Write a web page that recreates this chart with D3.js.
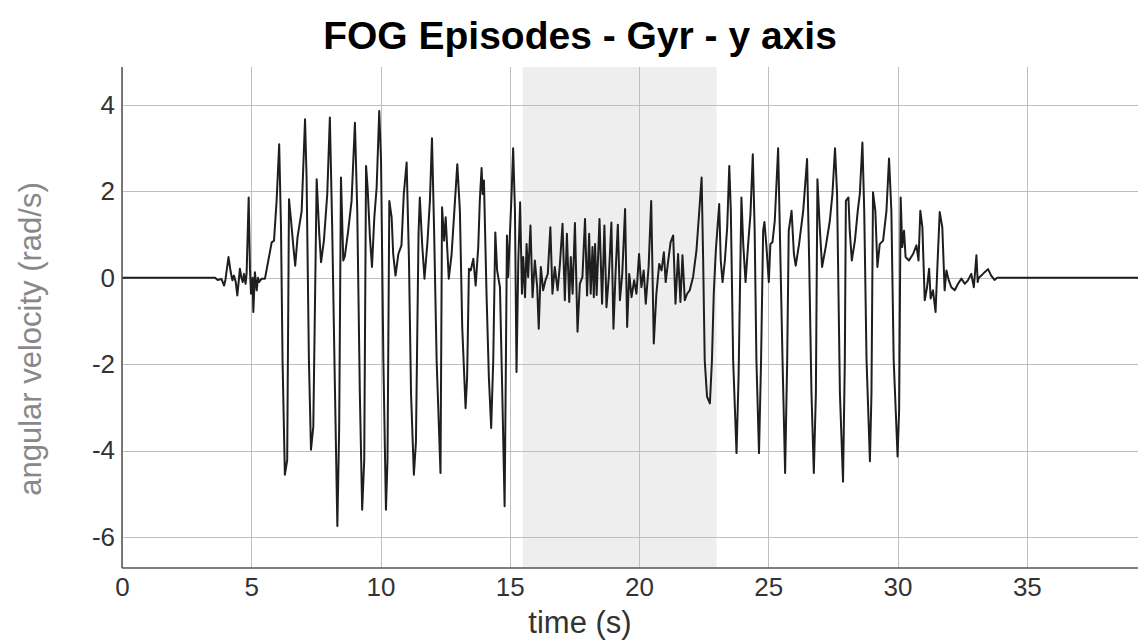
<!DOCTYPE html>
<meta charset="utf-8">
<style>
  body { margin: 0; background: #fff; }
  .grid line { stroke: #bfbfbf; stroke-width: 1; shape-rendering: crispEdges; }
  .grid path { display: none; }
  .axis text { font-family: "Liberation Sans", Arial, sans-serif; font-size: 26px; fill: #333; }
  .axis path, .axis line { display: none; }
</style>
<body>
<div id="chart"></div>
<script src="https://d3js.org/d3.v7.min.js"></script>
<script>

// time (s) of each digitised sample
var timeS = [0, 3.6, 3.7, 3.85, 3.95, 4.0, 4.12, 4.2, 4.27, 4.33, 4.4, 4.46, 4.52, 4.56, 4.62, 4.67, 4.72, 4.78, 4.82, 4.9,
  4.95, 4.99, 5.05, 5.08, 5.12, 5.14, 5.18, 5.21, 5.26, 5.3, 5.4, 5.53, 5.66, 5.79, 5.88, 5.98, 6.08, 6.15, 6.21, 6.3,
  6.39, 6.46, 6.54, 6.63, 6.7, 6.79, 6.95, 7.08, 7.14, 7.23, 7.31, 7.4, 7.53, 7.63, 7.7, 7.81, 7.94, 8.04, 8.13, 8.24,
  8.33, 8.4, 8.47, 8.56, 8.62, 8.75, 8.88, 9.01, 9.1, 9.2, 9.29, 9.37, 9.44, 9.5, 9.59, 9.67, 9.76, 9.85, 9.95, 10.02,
  10.11, 10.21, 10.27, 10.34, 10.43, 10.49, 10.58, 10.69, 10.81, 10.9, 11.01, 11.1, 11.18, 11.29, 11.37, 11.47, 11.52, 11.61, 11.7, 11.81,
  11.91, 11.99, 12.07, 12.17, 12.32, 12.38, 12.46, 12.52, 12.64, 12.75, 12.88, 12.97, 13.07, 13.16, 13.29, 13.35, 13.42, 13.49, 13.59, 13.68,
  13.78, 13.84, 13.91, 13.95, 14.0, 14.1, 14.19, 14.28, 14.36, 14.44, 14.51, 14.62, 14.71, 14.8, 14.85, 14.89, 14.94, 15.0, 15.07, 15.13,
  15.2, 15.26, 15.33, 15.4, 15.47, 15.52, 15.59, 15.65, 15.71, 15.8, 15.88, 15.97, 16.06, 16.12, 16.2, 16.29, 16.38, 16.47, 16.57, 16.65,
  16.74, 16.85, 16.94, 17.04, 17.13, 17.21, 17.3, 17.36, 17.43, 17.52, 17.62, 17.71, 17.81, 17.91, 17.99, 18.07, 18.13, 18.2, 18.25, 18.3,
  18.36, 18.47, 18.57, 18.66, 18.74, 18.83, 18.93, 19.01, 19.09, 19.18, 19.26, 19.35, 19.46, 19.54, 19.62, 19.71, 19.81, 19.9, 20.0, 20.09,
  20.18, 20.26, 20.37, 20.47, 20.57, 20.67, 20.78, 20.87, 20.96, 21.03, 21.13, 21.22, 21.32, 21.41, 21.51, 21.6, 21.68, 21.77, 21.86, 21.96,
  22.09, 22.22, 22.33, 22.42, 22.48, 22.54, 22.63, 22.74, 22.82, 22.89, 22.97, 23.1, 23.16, 23.23, 23.32, 23.41, 23.49, 23.55, 23.64, 23.77,
  23.85, 23.96, 24.03, 24.12, 24.22, 24.31, 24.4, 24.47, 24.54, 24.64, 24.72, 24.8, 24.85, 24.93, 25.02, 25.08, 25.16, 25.25, 25.38, 25.47,
  25.55, 25.65, 25.73, 25.79, 25.9, 25.99, 26.06, 26.19, 26.35, 26.5, 26.58, 26.67, 26.76, 26.84, 26.9, 26.99, 27.08, 27.22, 27.38, 27.48,
  27.58, 27.66, 27.77, 27.89, 27.96, 28.0, 28.1, 28.15, 28.23, 28.35, 28.46, 28.54, 28.64, 28.71, 28.8, 28.93, 28.99, 29.05, 29.14, 29.22,
  29.31, 29.44, 29.57, 29.67, 29.76, 29.85, 30.0, 30.06, 30.12, 30.18, 30.25, 30.31, 30.44, 30.6, 30.73, 30.81, 30.88, 30.96, 31.05, 31.14,
  31.22, 31.28, 31.37, 31.47, 31.55, 31.63, 31.73, 31.82, 31.89, 31.98, 32.08, 32.21, 32.34, 32.47, 32.6, 32.72, 32.85, 32.95, 33.05, 33.1,
  33.14, 33.24, 33.37, 33.5, 33.62, 33.75, 33.85, 39.3];

// gyroscope y axis, angular velocity (rad/s)
var gyrY = [0, 0, -0.05, -0.03, -0.18, -0.05, 0.48, 0.15, -0.06, 0.05, -0.1, -0.41, -0.05, 0.21, 0, -0.1, 0.09, -0.14, 0.1, 1.86,
  0.2, -0.37, 0, -0.79, -0.2, 0.13, -0.1, -0.29, 0, -0.1, -0.02, -0.02, 0.4, 0.82, 0.86, 1.78, 3.09, 1.17, -1.91, -4.56,
  -4.22, 1.82, 1.32, 0.71, 0.28, 0.94, 1.55, 3.67, 2.32, -1.91, -3.98, -3.45, 2.28, 1.02, 0.36, 0.86, 1.94, 3.71, 1.17, -2.68,
  -5.75, -3.5, 2.32, 0.4, 0.5, 1.09, 1.78, 3.59, 1.55, -2.68, -5.37, -4.22, 2.59, 2.09, 0.94, 0.25, 1.4, 2.09, 3.86, 2.71,
  -1.91, -5.37, -4.22, 1.78, 1.4, 0.55, 0.05, 0.55, 0.75, 1.94, 2.67, 0.4, -2.68, -4.56, -3.8, 1.02, 1.86, 0.78, -0.02, 0.78,
  1.78, 3.23, 1.17, -1.91, -4.52, 1.63, 0.86, 1.4, -0.02, 0.55, 1.78, 2.63, 1.55, -1.14, -3.02, -2.3, 0.21, 0.17, 0.44, -0.18,
  0.71, 1.78, 2.54, 1.94, 2.25, -0.37, -2.29, -3.48, -1.91, 1.05, 0.17, -0.22, -2.68, -5.29, -1.91, 0.98, 0.02, 0.94, 1.94, 3.0,
  1.55, -2.18, 0.4, 1.75, -0.37, 0.48, -0.45, 0.78, 0.02, 1.21, -0.45, 0.4, -0.22, -1.18, 0.25, -0.29, -0.06, 0.09, 1.17, -0.37,
  0.25, -0.29, 0.32, 1.25, -0.52, 1.02, -0.56, 0.48, -0.37, 1.27, -1.25, -0.14, 0.02, 1.36, -0.41, 1.02, -0.37, 0.71, -0.45, 0.78,
  -0.4, 1.36, -0.6, 1.21, -0.68, 0.02, 1.28, -1.18, 0.09, 1.23, -0.52, 0.09, 1.59, -1.14, 0.09, -0.45, -0.06, -0.37, 0.55, -0.22,
  0.17, -0.6, 0.25, 1.78, -1.52, -0.37, 0.32, 0.17, 0.59, -0.1, 0.4, 0.82, 0.98, -0.6, 0.55, -0.56, 0.52, -0.52, -0.37, -0.29,
  0.02, 0.63, 1.55, 2.32, 0.4, -1.91, -2.75, -2.91, -1.91, -0.37, 0.63, 1.71, 0.4, -0.1, 0.4, 1.17, 2.59, 1.55, -1.91, -4.06,
  -2.29, 1.86, 0.78, -0.1, 0.78, 1.48, 2.86, 1.17, -1.91, -4.06, -1.91, 1.09, 1.29, 0.71, -0.1, 0.78, 0.82, 1.32, 3.0, 0.4,
  -1.91, -4.52, -1.91, 1.09, 1.55, 0.55, 0.28, 0.78, 1.55, 2.75, 0.4, -2.68, -4.52, -2.68, 2.28, 1.17, 0.25, 0.71, 1.32, 1.94,
  3.0, 1.94, -2.68, -4.72, -1.91, 1.78, 1.86, 1.09, 0.4, 0.86, 1.55, 1.94, 3.13, 1.55, -1.91, -4.25, -2.68, 1.98, 1.55, 0.25,
  0.78, 0.86, 1.55, 2.76, 1.55, -1.91, -4.14, -3.06, 1.86, 0.71, 1.09, 0.48, 0.4, 0.55, 0.75, 0.4, 1.55, 1.17, -0.52, -0.22,
  0.21, -0.48, -0.29, -0.79, 0.4, 1.52, 1.17, -0.29, 0.17, -0.06, -0.22, -0.29, -0.14, -0.02, -0.14, -0.06, 0.09, -0.22, 0.52, -0.1,
  0, 0.05, 0.13, 0.2, 0.05, -0.05, 0, 0];

// freezing of gait episode (start, end) in seconds
var fogStart = [15.5],
    fogEnd = [23.0];

var xTicks = [0, 5, 10, 15, 20, 25, 30, 35],
    yTicks = [-6, -4, -2, 0, 2, 4];

var W = 1138, H = 641,
    margin = {top: 67, right: 0, bottom: 73, left: 122};

var width = W - margin.left - margin.right,
    height = H - margin.top - margin.bottom;

var svg = d3.select("#chart").append("svg")
    .attr("width", W)
    .attr("height", H);

var g = svg.append("g")
    .attr("transform", "translate(" + margin.left + "," + margin.top + ")");

var x = d3.scaleLinear().domain([0, 39.3]).range([0, width]);
var y = d3.scaleLinear().domain([-6.72, 4.88]).range([height, 0]);

// shaded FOG window
g.selectAll(".fog")
    .data(fogStart)
  .enter().append("rect")
    .attr("class", "fog")
    .attr("x", function(d) { return x(d); })
    .attr("y", 0)
    .attr("width", function(d, i) { return x(fogEnd[i]) - x(d); })
    .attr("height", height)
    .attr("fill", "#eeeeee");

// grid lines
g.append("g")
    .attr("class", "grid")
    .attr("transform", "translate(0," + height + ")")
    .call(d3.axisBottom(x).tickValues(xTicks).tickSize(-height).tickFormat(""));

g.append("g")
    .attr("class", "grid")
    .call(d3.axisLeft(y).tickValues(yTicks).tickSize(-width).tickFormat(""));

// signal
g.append("clipPath").attr("id", "clip")
  .append("rect").attr("width", width).attr("height", height);

var line = d3.line()
    .x(function(d, i) { return x(timeS[i]); })
    .y(function(d) { return y(d); });

g.append("path")
    .datum(gyrY)
    .attr("clip-path", "url(#clip)")
    .attr("fill", "none")
    .attr("stroke", "#1e1e1e")
    .attr("stroke-width", 2)
    .attr("stroke-linejoin", "round")
    .attr("d", line);

// axis lines
g.append("line")
    .attr("x1", 0).attr("x2", 0).attr("y1", 0).attr("y2", height)
    .attr("stroke", "#555").attr("stroke-width", 1.5);
g.append("line")
    .attr("x1", 0).attr("x2", width).attr("y1", height).attr("y2", height)
    .attr("stroke", "#555").attr("stroke-width", 1.5);

// tick labels (plain hyphen for negatives, like the original)
g.append("g")
    .attr("class", "axis")
    .attr("transform", "translate(0," + height + ")")
    .call(d3.axisBottom(x).tickValues(xTicks).tickSize(0).tickPadding(10)
      .tickFormat(function(d) { return String(d); }));

g.append("g")
    .attr("class", "axis")
    .call(d3.axisLeft(y).tickValues(yTicks).tickSize(0).tickPadding(7)
      .tickFormat(function(d) { return String(d); }));

// titles
svg.append("text")
    .attr("x", 580).attr("y", 49)
    .attr("text-anchor", "middle")
    .style("font-family", "Liberation Sans, Arial, sans-serif")
    .style("font-weight", "bold")
    .style("font-size", "39px")
    .style("fill", "#000")
    .text("FOG Episodes - Gyr - y axis");

svg.append("text")
    .attr("x", 580).attr("y", 633)
    .attr("text-anchor", "middle")
    .style("font-family", "Liberation Sans, Arial, sans-serif")
    .style("font-size", "31px")
    .style("fill", "#333")
    .text("time (s)");

svg.append("text")
    .attr("transform", "translate(41,339) rotate(-90)")
    .attr("text-anchor", "middle")
    .style("font-family", "Liberation Sans, Arial, sans-serif")
    .style("font-size", "31px")
    .style("fill", "#888")
    .text("angular velocity (rad/s)");

</script>
</body>
